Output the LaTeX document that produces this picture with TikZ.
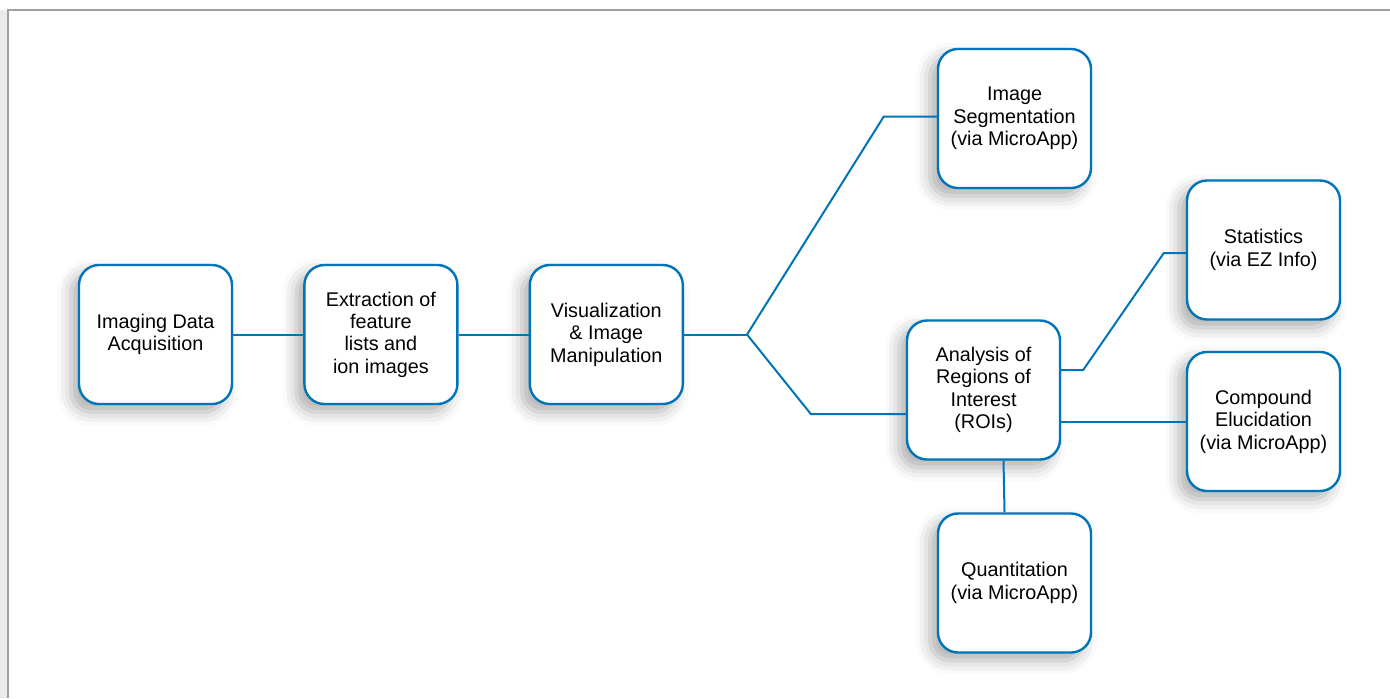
\documentclass[tikz,border=0pt]{standalone}
\usepackage{fontspec}
\setmainfont{Liberation Sans}
\usetikzlibrary{positioning,shadows.blur}
\definecolor{flowblue}{RGB}{0,116,184}
\definecolor{framegray}{RGB}{160,160,160}

\begin{document}
\begin{tikzpicture}[
  x=0.5pt,y=-0.5pt,
  node distance=35pt,
  stage/.style={draw=flowblue,line width=1.2pt,rounded corners=10pt,fill=white,
                minimum width=76.5pt,minimum height=69.5pt,align=center,
                font=\fontsize{9.9}{11.2}\selectfont,inner sep=2pt,
                blur shadow={shadow xshift=-4pt,shadow yshift=-4pt,
                             shadow blur radius=7pt,shadow opacity=32}},
  link/.style={draw=flowblue,line width=1pt}
]
\useasboundingbox (0,0) rectangle (1390,698);
% page frame
\fill[black!8] (0,10) rectangle (7,698);
\draw[framegray,line width=1pt] (1390,10) -- (8,10) -- (8,698);

% main row
\node[stage] (acq) at (155.5,334.5) {Imaging Data\\Acquisition};
\node[stage,right=of acq] (extr) {Extraction of\\feature\\lists and\\ion images};
\node[stage,right=of extr] (vis) {Visualization\\\& Image\\Manipulation};

% branches
\node[stage] (seg) at (1014.5,118.5) {Image\\Segmentation\\(via MicroApp)};
\node[stage] (roi) at (983.5,390) {Analysis of\\Regions of\\Interest\\(ROIs)};
\node[stage] (stat) at (1263.5,250) {Statistics\\(via EZ Info)};
\node[stage] (comp) at (1263.5,421.5) {Compound\\Elucidation\\(via MicroApp)};
\node[stage] (quant) at (1014.5,583) {Quantitation\\(via MicroApp)};

\draw[link] (acq) -- (extr);
\draw[link] (extr) -- (vis);

\coordinate (fork) at ([xshift=31.5pt]vis.east);
\coordinate (segbend) at ([xshift=-26.5pt,yshift=1pt]seg.west);
\coordinate (roibend) at ([xshift=-47.5pt,yshift=-12pt]roi.west);
\draw[link] (vis.east) -- (fork);
\draw[link] (fork) -- (segbend) -- ([yshift=1pt]seg.west);
\draw[link] (fork) -- (roibend) -- ([yshift=-12pt]roi.west);

\coordinate (statout) at ([yshift=10pt]roi.east);
\coordinate (statbend) at ([xshift=-11pt,yshift=-1.5pt]stat.west);
\draw[link] (statout) -- ++(11pt,0) -- (statbend) -- ([yshift=-1.5pt]stat.west);
\draw[link] (roi.east |- comp.west) -- (comp.west);
\draw[link] ([xshift=10pt]roi.south) -- ([xshift=-5pt]quant.north);
\end{tikzpicture}
\end{document}
